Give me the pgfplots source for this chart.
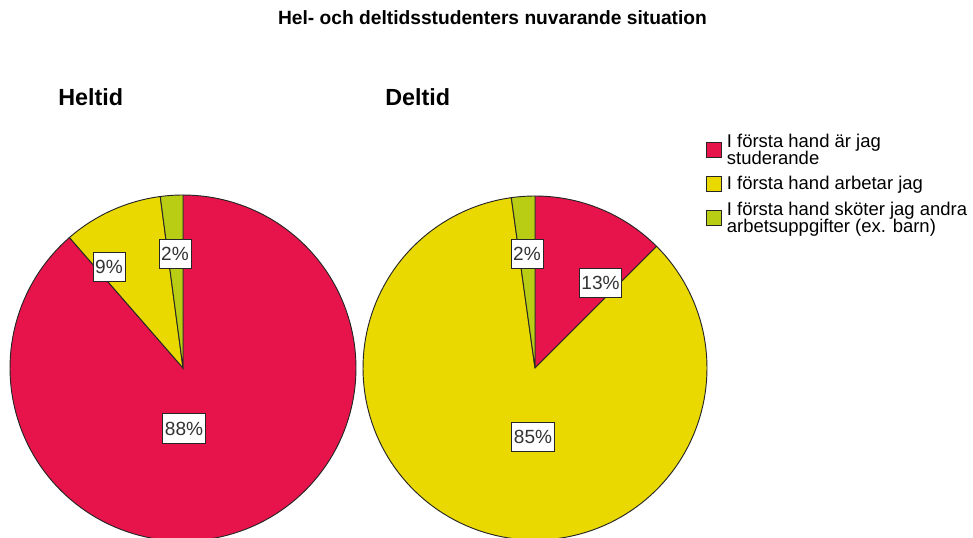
\documentclass[border=0pt]{standalone}
\usepackage{pgfplots}
\pgfplotsset{compat=1.18}
\usepackage{fontspec}
\setmainfont{Liberation Sans}
\definecolor{cRed}{RGB}{230,20,75}
\definecolor{cYel}{RGB}{233,217,0}
\definecolor{cGrn}{RGB}{185,205,20}
\tikzset{labelbox/.style={draw=black!85, fill=white, text=black!80, line width=0.6pt,
    font=\fontsize{14.3pt}{14pt}\selectfont, inner xsep=1.6pt, minimum height=22pt}}
% pie slice: center x, center y, radius, start %, end %, colour
\newcommand{\pieslice}[6]{%
  \addplot[fill=#6, draw=black!85, line width=0.7pt, domain={#4*3.6}:{#5*3.6}, samples=150, variable=\t]
    ({#1+#3*sin(\t)},{#2+#3*cos(\t)}) -- (axis cs:#1,#2) -- cycle;}
\begin{document}
\begin{tikzpicture}
\useasboundingbox (0,0) rectangle (729.75pt,402.75pt);
\begin{axis}[
  at={(0,0)}, anchor=south west,
  scale only axis, width=729.75pt, height=402.75pt,
  xmin=0, xmax=973, ymin=0, ymax=537,
  hide axis, clip=true,
  legend cell align=left,
  legend style={at={(0.7256,0.7560)}, anchor=north west, draw=none, fill=none,
    font=\fontsize{13.85pt}{11.6pt}\selectfont, row sep=3.5pt, inner sep=0pt,
    cells={align=left}, nodes={inner xsep=3.5pt}},
  legend image code/.code={\draw[#1, draw=black!85, line width=0.7pt] (0pt,-5.6pt) rectangle (11.25pt,5.6pt);},
]
% Heltid: studerande 88.6, arbetar 9.3, andra 2.1 (percent)
\pieslice{183}{169}{173}{0}{88.6}{cRed}
\pieslice{183}{169}{173}{88.6}{97.9}{cYel}
\pieslice{183}{169}{173}{97.9}{100}{cGrn}
\legend{I första hand är jag\\[-1.1pt]studerande, I första hand arbetar jag, I första hand sköter jag andra\\[-1.1pt]arbetsuppgifter (ex. barn)}
% Deltid: studerande 12.5, arbetar 85.3, andra 2.2 (percent)
\pgfplotsset{every axis plot/.append style={forget plot}}
\pieslice{535}{169}{172}{0}{12.5}{cRed}
\pieslice{535}{169}{172}{12.5}{97.8}{cYel}
\pieslice{535}{169}{172}{97.8}{100}{cGrn}
\node[labelbox] at (axis cs:184,108.5) {88\%};
\node[labelbox] at (axis cs:109,270) {9\%};
\node[labelbox] at (axis cs:175,283) {2\%};
\node[labelbox] at (axis cs:600.5,254) {13\%};
\node[labelbox] at (axis cs:527,283) {2\%};
\node[labelbox] at (axis cs:533,100) {85\%};
\node[font=\bfseries\fontsize{14.4pt}{16pt}\selectfont] at (axis cs:492.5,519) {Hel- och deltidsstudenters nuvarande situation};
\node[font=\bfseries\fontsize{17.5pt}{20pt}\selectfont, anchor=west, inner sep=0pt] at (axis cs:58,440) {Heltid};
\node[font=\bfseries\fontsize{17.5pt}{20pt}\selectfont, anchor=west, inner sep=0pt] at (axis cs:385,440) {Deltid};
\end{axis}
\end{tikzpicture}
\end{document}
